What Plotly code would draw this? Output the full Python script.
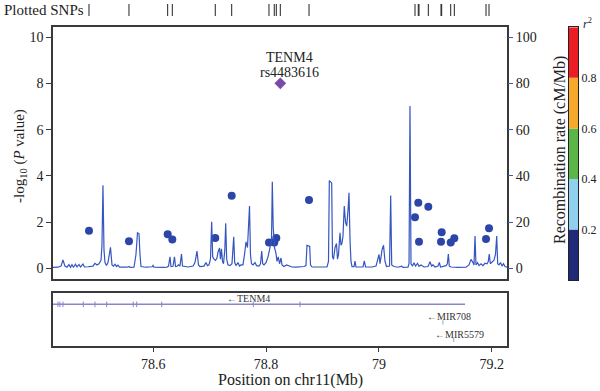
import plotly.graph_objects as go

FONT = "Liberation Serif, Times New Roman, serif"
W, H = 600, 391

# ---------------- data ----------------
# SNP association results (position in Mb, -log10 P)
snp_pos = [78.4860, 78.5569, 78.6255, 78.6337, 78.7099, 78.7390, 78.8051, 78.8145,
           78.8181, 78.8761, 79.0640, 79.0698, 79.0711, 79.0876, 79.1113, 79.1101,
           79.1273, 79.1337, 79.1899, 79.1952]
snp_logp = [1.63, 1.17, 1.48, 1.25, 1.31, 3.14, 1.12, 1.12,
            1.31, 2.96, 2.21, 2.84, 1.15, 2.67, 1.56, 1.15,
            1.12, 1.30, 1.27, 1.74]

lead_pos = [78.8252]
lead_logp = [8.01]
lead_gene = "TENM4"
lead_snp = "rs4483616"

# recombination rate (cM/Mb)
rec_pos = [78.4222, 78.4311, 78.4364, 78.4399, 78.4434, 78.4470, 78.4505, 78.4532, 78.4558, 78.4585,
           78.4620, 78.4647, 78.4683, 78.4709, 78.4754, 78.4780, 78.4842, 78.4931, 78.4966, 78.5002,
           78.5037, 78.5073, 78.5090, 78.5108, 78.5126, 78.5144, 78.5170, 78.5197, 78.5241, 78.5268,
           78.5295, 78.5321, 78.5348, 78.5374, 78.5401, 78.5481, 78.5534, 78.5569, 78.5587, 78.5658,
           78.5693, 78.5720, 78.5747, 78.5764, 78.5782, 78.5871, 78.5977, 78.5995, 78.6012, 78.6172,
           78.6243, 78.6270, 78.6296, 78.6314, 78.6349, 78.6376, 78.6394, 78.6420, 78.6447, 78.6473,
           78.6500, 78.6518, 78.6615, 78.6706, 78.6739, 78.6775, 78.6801, 78.6828, 78.6899, 78.6934,
           78.6961, 78.6988, 78.7014, 78.7035, 78.7053, 78.7076, 78.7103, 78.7129, 78.7147, 78.7174,
           78.7191, 78.7209, 78.7227, 78.7245, 78.7268, 78.7284, 78.7301, 78.7324, 78.7360, 78.7395,
           78.7426, 78.7443, 78.7466, 78.7502, 78.7528, 78.7555, 78.7590, 78.7617, 78.7644, 78.7670,
           78.7706, 78.7723, 78.7741, 78.7768, 78.7803, 78.7830, 78.7874, 78.7901, 78.7922, 78.7940,
           78.7963, 78.7998, 78.8034, 78.8069, 78.8096, 78.8110, 78.8126, 78.8149, 78.8176, 78.8193,
           78.8216, 78.8238, 78.8264, 78.8282, 78.8317, 78.8365, 78.8406, 78.8459, 78.8530, 78.8601,
           78.8672, 78.8707, 78.8725, 78.8773, 78.8787, 78.8814, 78.8956, 78.9080, 78.9106, 78.9121,
           78.9163, 78.9177, 78.9195, 78.9222, 78.9248, 78.9266, 78.9284, 78.9310, 78.9328, 78.9346,
           78.9363, 78.9386, 78.9408, 78.9429, 78.9452, 78.9470, 78.9488, 78.9505, 78.9523, 78.9559,
           78.9576, 78.9594, 78.9718, 78.9741, 78.9763, 78.9878, 78.9949, 78.9975, 79.0002, 79.0020,
           79.0055, 79.0082, 79.0108, 79.0135, 79.0188, 79.0209, 79.0227, 79.0268, 79.0339, 79.0404,
           79.0427, 79.0516, 79.0534, 79.0551, 79.0569, 79.0596, 79.0622, 79.0649, 79.0684, 79.0711,
           79.0746, 79.0800, 79.0871, 79.0906, 79.0933, 79.0959, 79.0995, 79.1048, 79.1071, 79.1092,
           79.1154, 79.1190, 79.1213, 79.1231, 79.1248, 79.1278, 79.1402, 79.1544, 79.1597, 79.1632,
           79.1668, 79.1686, 79.1704, 79.1721, 79.1748, 79.1775, 79.1810, 79.1845, 79.1881, 79.1916,
           79.1939, 79.1957, 79.1975, 79.1996, 79.2017, 79.2040, 79.2067, 79.2089, 79.2106, 79.2129,
           79.2156, 79.2183, 79.2209, 79.2236, 79.2271]
rec_rate = [0.4, 0.5, 1.0, 3.6, 1.0, 0.5, 1.6, 0.5, 1.6, 0.5,
            1.8, 0.6, 1.7, 0.6, 1.9, 0.6, 0.7, 1.0, 2.2, 1.5,
            2.0, 3.5, 10, 36, 8, 2.5, 1.2, 2.5, 9.1, 1.5,
            1.0, 1.8, 0.8, 1.4, 0.5, 0.4, 0.5, 0.8, 0.4, 0.5,
            6, 15.4, 15, 6, 0.8, 0.5, 0.7, 1.3, 0.5, 0.4,
            0.5, 1.0, 5.0, 0.8, 0.9, 5, 0.8, 0.9, 1.5, 1.0,
            6.2, 1.0, 0.6, 1.0, 2.5, 7.5, 1.5, 0.8, 1.0, 2.5,
            1.2, 1.5, 4, 20.2, 5, 4, 3.5, 4.5, 7, 8.8,
            4, 8.5, 3, 2, 8, 19.5, 4, 1.5, 1.2, 2,
            13.7, 2.5, 1.2, 2.5, 1, 1.5, 1.5, 6, 11.5, 9,
            27, 6, 2, 1.5, 2.5, 1.2, 1, 2, 7.5, 2,
            1.5, 2.5, 5, 9, 12, 37.5, 18, 9, 6.5, 3,
            5, 2, 4.5, 1.5, 0.8, 1.5, 1.0, 0.6, 0.5, 0.6,
            0.8, 1.2, 10, 9.5, 1.5, 0.6, 0.5, 0.6, 3, 38,
            37, 5, 4, 9, 10.8, 4, 6, 15.4, 10, 11,
            14, 27, 20, 18.3, 25, 32.7, 12, 3, 0.8, 0.8,
            3.2, 0.6, 0.6, 3.2, 0.6, 0.6, 1.0, 3, 6, 2,
            8, 10, 3, 0.8, 1, 31.5, 1.5, 0.8, 0.5, 1,
            0.4, 0.5, 2, 70.3, 2, 1, 2.4, 1, 2.2, 0.9,
            1.5, 0.6, 0.8, 2.9, 1, 1.5, 0.6, 1, 2.6, 0.6,
            0.8, 1.2, 2, 6.2, 1, 0.6, 0.4, 0.5, 1.5, 3.9,
            2.5, 1.5, 14, 1.5, 2.5, 1.2, 2, 1.2, 2.2, 2,
            3, 6.2, 2, 2.5, 3, 3.5, 6, 14, 2, 1.5,
            2.5, 1, 2, 0.8, 0.5]

# genes
gene_names = ["TENM4", "MIR708", "MIR5579"]
gene_start = [78.3600, 79.1135, 79.1327]
gene_end = [79.1527, 79.1137, 79.1329]
gene_row = [0.78, 0.44, 0.11]
gene_label_x = [78.7273, 79.0816, 79.0965]
gene_label_row = [0.89, 0.55, 0.22]
tenm4_exons = [78.4310, 78.4346, 78.4399, 78.4759, 78.4966, 78.5174, 78.5645,
               78.5706, 78.6149, 78.7773, 78.8601]

# r^2 legend bins
r2_bins = [0.0, 0.2, 0.4, 0.6, 0.8]
r2_width = [0.2, 0.2, 0.2, 0.2, 0.2]
r2_colors = ["#1f2a78", "#8fd0ef", "#5cb547", "#f6a82a", "#eb1c24"]
r2_ticks = [0.2, 0.4, 0.6, 0.8]

x_ticks = [78.6, 78.8, 79.0, 79.2]
x_ticktext = ["78.6", "78.8", "79", "79.2"]
xrange = [78.4222, 79.2271]

# ---------------- layout helpers ----------------
def px_x(p):
    return p / W

def px_y(p):
    return 1 - p / H

LINE_BLUE = "#3556c0"
PT_BLUE = "#2d45a8"
FRAME = "#3a3a3a"

fig = go.Figure()

# recombination line (right axis)
fig.add_trace(go.Scatter(x=rec_pos, y=rec_rate, mode="lines", xaxis="x", yaxis="y2",
                         line=dict(color=LINE_BLUE, width=1.2), hoverinfo="skip"))
# SNPs
fig.add_trace(go.Scatter(x=snp_pos, y=snp_logp, mode="markers", xaxis="x", yaxis="y",
                         marker=dict(color=PT_BLUE, size=8, line=dict(width=0))))
fig.add_trace(go.Scatter(x=lead_pos, y=lead_logp, mode="markers", xaxis="x", yaxis="y",
                         marker=dict(color="#7b4aa6", size=9, symbol="diamond",
                                     line=dict(width=0))))

# Plotted SNPs strip
all_pos = snp_pos + lead_pos
fig.add_trace(go.Scatter(x=all_pos, y=[0.5] * len(all_pos), mode="markers", xaxis="x3", yaxis="y4",
                         marker=dict(symbol="line-ns", size=9, line=dict(width=1, color="#222"))))

# gene track
for name, s, e, r in zip(gene_names, gene_start, gene_end, gene_row):
    if name == "TENM4":
        fig.add_trace(go.Scatter(x=[s, e], y=[r, r], mode="lines", xaxis="x2", yaxis="y3",
                                 line=dict(color="#8686c8", width=1.5)))
    else:
        fig.add_trace(go.Scatter(x=[s, s], y=[r - 0.04, r + 0.04], mode="lines", xaxis="x2", yaxis="y3",
                                 line=dict(color="#9a9ad0", width=1)))
fig.add_trace(go.Scatter(x=tenm4_exons, y=[gene_row[0]] * len(tenm4_exons), mode="markers",
                         xaxis="x2", yaxis="y3",
                         marker=dict(symbol="line-ns", size=4, line=dict(width=1, color="#8686c8"))))

# r^2 colour key
fig.add_trace(go.Bar(x=[0] * len(r2_bins), y=r2_width, base=r2_bins, width=1,
                     marker=dict(color=r2_colors, line=dict(width=0)),
                     xaxis="x4", yaxis="y5"))

main_x = [px_x(53), px_x(507)]
main_y = [px_y(279), px_y(27)]

fig.update_layout(
    width=W, height=H, margin=dict(l=0, r=0, t=0, b=0, pad=0),
    paper_bgcolor="white", plot_bgcolor="white", showlegend=False,
    font=dict(family=FONT, color="#222"),
    xaxis=dict(domain=main_x, range=xrange, showticklabels=False, ticks="", showgrid=False,
               zeroline=False, showline=True, mirror=True, linecolor=FRAME, linewidth=1.5,
               automargin=False),
    yaxis=dict(domain=main_y, anchor="x", range=[-0.46, 10.45], tickvals=[0, 2, 4, 6, 8, 10],
               ticks="outside", ticklen=5, tickcolor=FRAME, tickfont=dict(family=FONT, size=14, color="#222"),
               showgrid=False, zeroline=False, showline=True, mirror=True, linecolor=FRAME, linewidth=1.5,
               automargin=False),
    yaxis2=dict(overlaying="y", side="right", anchor="x", range=[-4.6, 104.5],
                tickvals=[0, 20, 40, 60, 80, 100], ticks="outside", ticklen=5, tickcolor=LINE_BLUE,
                tickwidth=1.2, tickfont=dict(family=FONT, size=14, color="#222"),
                showgrid=False, zeroline=False, showline=False, automargin=False),
    xaxis2=dict(domain=main_x, anchor="y3", range=xrange, tickvals=x_ticks, ticktext=x_ticktext,
                ticks="outside", ticklen=5, tickcolor=FRAME, tickfont=dict(family=FONT, size=14, color="#222"),
                showgrid=False, zeroline=False, showline=True, mirror=True, linecolor=FRAME, linewidth=1.5,
                automargin=False),
    yaxis3=dict(domain=[px_y(345.7), px_y(292.7)], anchor="x2", range=[0, 1], showticklabels=False,
                ticks="", showgrid=False, zeroline=False, showline=True, mirror=True,
                linecolor=FRAME, linewidth=1.5, automargin=False),
    xaxis3=dict(domain=main_x, anchor="y4", range=xrange, visible=False, automargin=False),
    yaxis4=dict(domain=[px_y(16), px_y(4)], anchor="x3", range=[0, 1], visible=False, automargin=False),
    xaxis4=dict(domain=[px_x(569), px_x(578)], anchor="y5", range=[-0.5, 0.5], showticklabels=False,
                ticks="", showgrid=False, zeroline=False, showline=True, mirror=True,
                linecolor="#222", linewidth=1, automargin=False),
    yaxis5=dict(domain=[px_y(280), px_y(27.3)], anchor="x4", side="right", range=[0, 1],
                tickvals=r2_ticks, ticktext=[f"{v:.1f}" for v in r2_ticks], ticks="",
                tickfont=dict(family=FONT, size=12, color="#222"), showgrid=False, zeroline=False,
                showline=True, mirror=True, linecolor="#222", linewidth=1, automargin=False),
)

annotations = [
    dict(text="Plotted SNPs", x=px_x(2), y=px_y(9.5), xanchor="left", yanchor="middle",
         font=dict(family=FONT, size=15, color="#222")),
    dict(text="-log<sub>10</sub> (<i>P</i> value)", x=px_x(20), y=px_y(156), textangle=-90,
         xanchor="center", yanchor="middle", font=dict(family=FONT, size=15, color="#222")),
    dict(text="Recombination rate (cM/Mb)", x=px_x(560), y=px_y(150), textangle=-90,
         xanchor="center", yanchor="middle", font=dict(family=FONT, size=16, color="#222")),
    dict(text="Position on chr11(Mb)", x=px_x(290), y=px_y(380), xanchor="center", yanchor="middle",
         font=dict(family=FONT, size=16, color="#222")),
    dict(text="<i>r</i><sup>2</sup>", x=px_x(581), y=px_y(23), xanchor="left", yanchor="middle",
         font=dict(family=FONT, size=12, color="#222")),
]
for a in annotations:
    a.update(xref="paper", yref="paper", showarrow=False)
fig.update_layout(annotations=annotations)

# lead SNP labels
fig.add_annotation(x=lead_pos[0], y=lead_logp[0], xref="x", yref="y", text=lead_snp, showarrow=False,
                   xshift=9, yshift=11, yanchor="middle", font=dict(family=FONT, size=14, color="#222"))
fig.add_annotation(x=lead_pos[0], y=lead_logp[0], xref="x", yref="y", text=lead_gene, showarrow=False,
                   xshift=9, yshift=26, yanchor="middle", font=dict(family=FONT, size=14, color="#222"))

# gene labels
for name, lx, ly in zip(gene_names, gene_label_x, gene_label_row):
    fig.add_annotation(x=lx, y=ly, xref="x2", yref="y3", text="\u2190" + name, showarrow=False,
                       xanchor="left", yanchor="middle", font=dict(family=FONT, size=10, color="#333"))

fig.write_html("out.html", config={"displayModeBar": False},
               post_script="document.body.style.margin='0';")
